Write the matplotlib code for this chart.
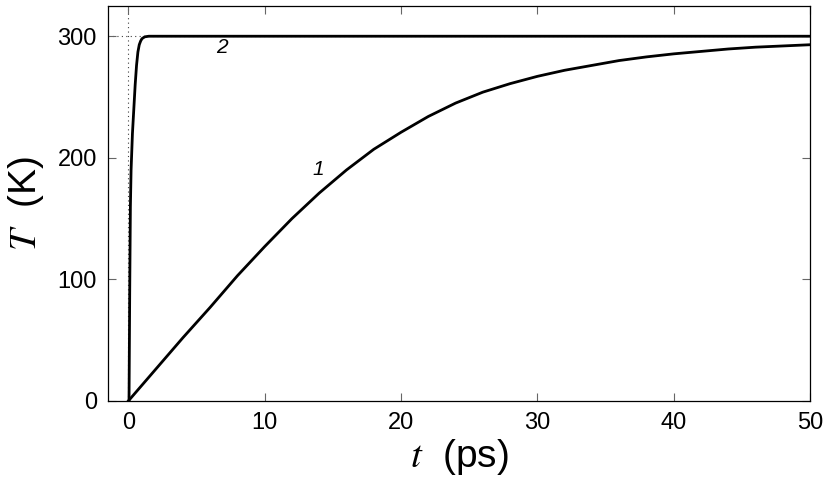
import matplotlib
matplotlib.use("Agg")
import matplotlib.pyplot as plt
import numpy as np

plt.rcParams['font.family'] = ['Liberation Sans', 'DejaVu Sans']
plt.rcParams['mathtext.fontset'] = 'stix'

# Curve 1 (slow heating)
t1 = [0, 2, 4, 6, 8, 10, 12, 14, 16, 18, 20, 22, 24, 26, 28, 30, 32, 34, 36, 38, 40, 42, 44, 46, 48, 50]
T1 = [0, 26, 52, 77, 103, 127, 150, 171, 190, 207, 221, 234, 245, 254, 261, 267, 272, 276, 280, 283,
      285.5, 287.5, 289.5, 291, 292, 293]

# Curve 2 (fast heating)
t2 = [0.05, 0.1, 0.15, 0.2, 0.3, 0.4, 0.5, 0.6, 0.7, 0.8, 0.9, 1.0, 1.2, 1.5, 2, 50]
T2 = [0, 90, 160, 190, 220, 240, 260, 276, 287, 293, 296, 298, 299.5, 300, 300, 300]

xticks = [0, 10, 20, 30, 40, 50]
yticks = [0, 100, 200, 300]

fig = plt.figure(figsize=(8.3, 4.86), dpi=100)
ax = fig.add_axes([0.130, 0.175, 0.846, 0.813])

ax.axhline(300, color='0.25', lw=0.8, ls=(0, (1, 3)), zorder=1)
ax.axvline(0, color='0.25', lw=0.8, ls=(0, (1, 3)), zorder=1)

ax.plot(t1, T1, color='black', lw=2.0, zorder=3, solid_joinstyle='round')
ax.plot(t2, T2, color='black', lw=2.0, zorder=3, solid_joinstyle='round')

ax.text(13.9, 190, '1', fontsize=15, style='italic', ha='center', va='center')
ax.text(6.9, 291, '2', fontsize=15, style='italic', ha='center', va='center')

ax.set_xlim(-1.5, 50)
ax.set_ylim(0, 325)
ax.set_xticks(xticks)
ax.set_yticks(yticks)
ax.tick_params(direction='in', length=6, width=0.8, color='0.4', labelsize=17,
               top=True, right=True, pad=8)
for s in ax.spines.values():
    s.set_linewidth(0.9)

ax.set_xlabel(r'$t$  (ps)', fontsize=28, labelpad=2)
ax.set_ylabel(r'$T$  (K)', fontsize=28, labelpad=8)

fig.savefig('out.png', dpi=100)
